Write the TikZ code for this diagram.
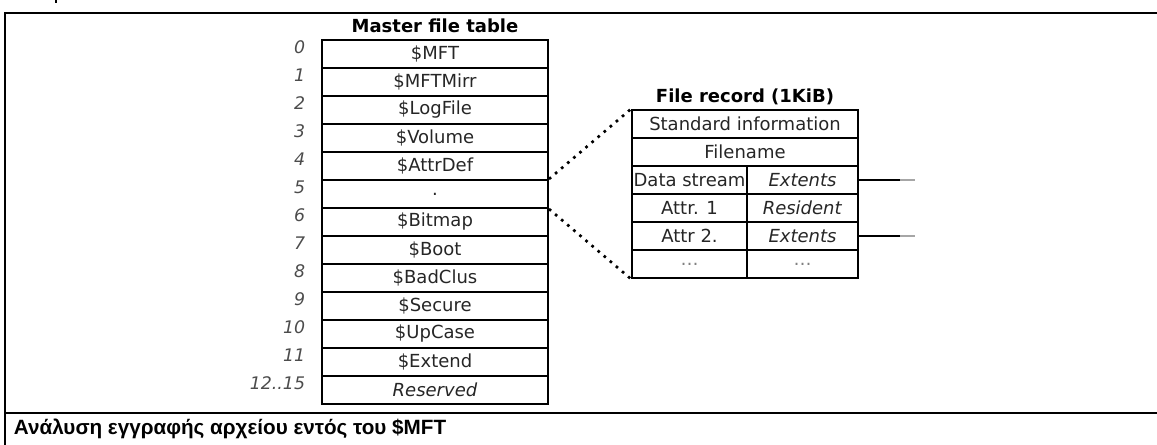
\documentclass[tikz,border=0pt]{standalone}
\usepackage{fontspec}
\setmainfont{DejaVu Sans}
\newfontfamily\captionfont{Liberation Sans}

\tikzset{every picture/.style={line width=0.75pt}}
\tikzset{
	cell/.style={draw, line width=1.5pt, inner sep=0pt, minimum height=21pt, text=black!85, font=\fontsize{13.5}{15}\selectfont},
	mftrow/.style={cell, minimum width=169.5pt},
	wide/.style={cell, minimum width=169.5pt},
	leftcell/.style={cell, minimum width=86.25pt},
	rightcell/.style={cell, minimum width=83.25pt},
	idx/.style={anchor=east, text=black!70, font=\fontsize{13}{15}\selectfont\itshape},
	heading/.style={font=\fontsize{13.5}{15}\selectfont\bfseries},
	zoomline/.style={line width=2pt, dash pattern=on 2pt off 4pt},
	frame/.style={line width=2.2pt}}

\begin{document}
\begin{tikzpicture}[x=0.75pt,y=0.75pt,yscale=-1,xscale=1]
	\path[use as bounding box] (0,0) rectangle (1157,445);

	%Straight Lines [frame]
	\draw [frame] (56,0) -- (56,3) ;
	\draw [frame] (1157,13) -- (5,13) -- (5,445) ;
	\draw [frame] (5,413) -- (1157,413) ;

	% Master file table
	\node [heading] (mfttitle) at (435,26) {Master file table};
	\foreach \name [count=\i from 0] in {\$MFT,\$MFTMirr,\$LogFile,\$Volume,\$AttrDef,.,\$Bitmap,\$Boot,\$BadClus,\$Secure,\$UpCase,\$Extend,{\textit{Reserved}}}
		\node [mftrow] (mft\i) at (435,{54+28*\i}) {\name};
	\foreach \num [count=\i from 0] in {0,1,2,3,4,5,6,7,8,9,10,11,{12..15}}
		\node [idx] (idx\i) at (310,{47+28*\i}) {\num};

	% File record
	\node [heading] (rectitle) at (745,97) {File record (1KiB)};
	\node [wide] (std) at (745,124) {Standard information};
	\node [wide] (fname) at (745,152) {Filename};
	\node [leftcell] (ds) at (689.5,180) {Data stream};
	\node [rightcell] (dsext) at (802.5,180) {\textit{Extents}};
	\node [leftcell] (attra) at (689.5,208) {Attr. 1};
	\node [rightcell] (attraval) at (802.5,208) {\textit{Resident}};
	\node [leftcell] (attrb) at (689.5,236) {Attr 2.};
	\node [rightcell] (attrbext) at (802.5,236) {\textit{Extents}};
	\node [leftcell] (moreL) at (689.5,264) {\textcolor{black!50}{\dots}};
	\node [rightcell] (moreR) at (802.5,264) {\textcolor{black!50}{\dots}};

	%Straight Lines [zoom]
	\draw [zoomline] (mft5.north east) -- (std.north west) ;
	\draw [zoomline] (mft5.south east) -- (moreL.south west) ;

	%Straight Lines [extents]
	\coordinate (dsend) at (900,180) ;
	\coordinate (dstip) at (915,180) ;
	\coordinate (attrbend) at (900,236) ;
	\coordinate (attrbtip) at (915,236) ;
	\draw [line width=1.5pt] (dsext.east) -- (dsend) ;
	\draw [line width=1.5pt, black!35] (dsend) -- (dstip) ;
	\draw [line width=1.5pt] (attrbext.east) -- (attrbend) ;
	\draw [line width=1.5pt, black!35] (attrbend) -- (attrbtip) ;

	% Text Node
	\node [anchor=base west, font=\captionfont\fontsize{15.5}{18}\selectfont\bfseries] (caption) at (9,434) {Ανάλυση εγγραφής αρχείου εντός του \$MFT};

\end{tikzpicture}
\end{document}
